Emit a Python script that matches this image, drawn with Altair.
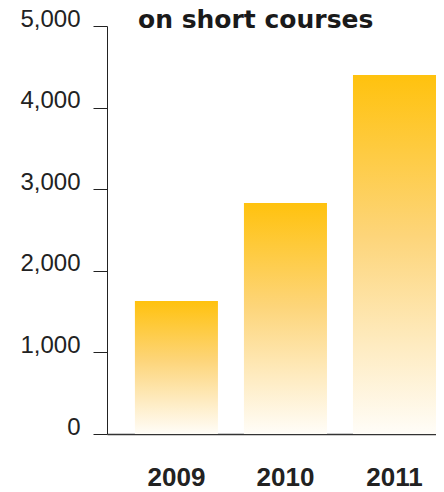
import altair as alt
import pandas as pd

years = ["2009", "2010", "2011"]
values = [1630, 2830, 4400]
title_text = ["on short courses"]
y_ticks = [0, 1000, 2000, 3000, 4000, 5000]

df = pd.DataFrame({"year": years, "value": values})
tdf = pd.DataFrame({"t": title_text})

gradient = alt.Gradient(
    gradient="linear",
    x1=0, y1=0, x2=0, y2=1,
    stops=[
        alt.GradientStop(color="#FFC20E", offset=0),
        alt.GradientStop(color="#FDD57A", offset=0.45),
        alt.GradientStop(color="#FEEBC0", offset=0.75),
        alt.GradientStop(color="#FFFDF8", offset=1),
    ],
)

bars = alt.Chart(df).mark_bar(color=gradient).encode(
    x=alt.X(
        "year:N",
        sort=years,
        scale=alt.Scale(paddingInner=0.2385, paddingOuter=0.128, align=1.0),
        axis=alt.Axis(
            title=None, ticks=False, labelAngle=0,
            labelFont="Liberation Sans", labelFontWeight="bold",
            labelFontSize=26, labelColor="#222222", labelPadding=30,
            domainColor="#333333", domainWidth=1.5,
        ),
    ),
    y=alt.Y(
        "value:Q",
        scale=alt.Scale(domain=[0, 5000], nice=False),
        axis=alt.Axis(
            title=None, values=y_ticks, format=",d", grid=False,
            tickSize=14, tickColor="#222222", tickWidth=1,
            domainColor="#222222", domainWidth=1,
            labelFont="Liberation Sans", labelFontSize=24,
            labelColor="#222222", labelPadding=13,
            labelBaseline="alphabetic",
        ),
    ),
)

title = alt.Chart(tdf).mark_text(
    font="DejaVu Sans", fontWeight="bold", fontSize=25,
    align="left", baseline="alphabetic", color="#1a1a1a",
).encode(
    text="t:N",
    x=alt.value(31),
    y=alt.value(2),
)

chart = alt.layer(bars, title).properties(
    width=329, height=408,
    autosize=alt.AutoSizeParams(type="none"),
    padding={"left": 99, "top": 18, "right": 0, "bottom": 58},
).configure_view(stroke=None)

chart.save("out.html", embed_options={"renderer": "svg", "actions": False})
